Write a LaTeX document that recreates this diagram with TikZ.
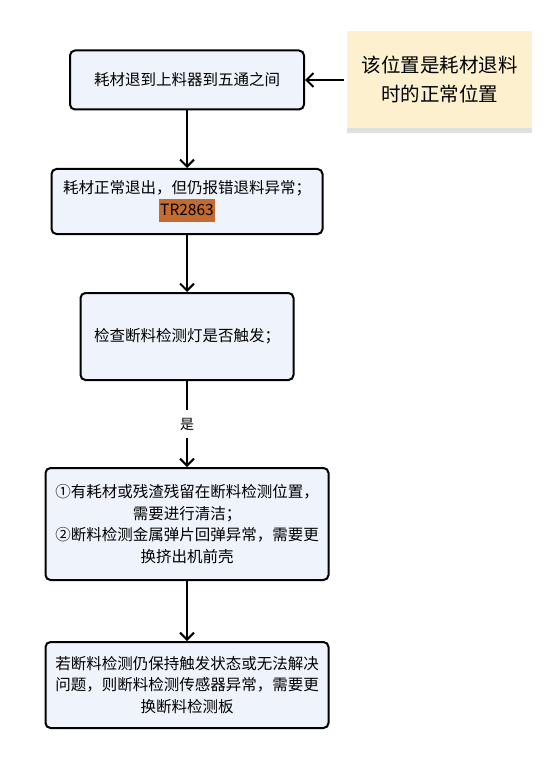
\documentclass[tikz,border=0pt]{standalone}
\usepackage{fontspec}
\setmainfont{Noto Sans CJK SC}
\usetikzlibrary{positioning, arrows.meta, shadows}

\definecolor{boxfill}{HTML}{EFF3FC}
\definecolor{notefill}{HTML}{FDF0CE}
\definecolor{codebg}{HTML}{C46B2F}

\begin{document}
\begin{tikzpicture}[
    x=1pt, y=-1pt,
    ->,
    >={Straight Barb[length=7pt, width=14pt]},
    node distance=120pt,
    on grid,
    line width=2pt,
    every node/.style={font=\fontsize{15.5}{21.5}\selectfont},
    stepbox/.style={
        draw=black,
        fill=boxfill,
        rounded corners=5pt,
        align=center,
        inner sep=4pt,
    },
    notebox/.style={
        fill=notefill,
        align=center,
        minimum width=185pt,
        minimum height=97pt,
        font=\fontsize{19.5}{29}\selectfont,
        drop shadow={shadow xshift=0pt, shadow yshift=-5pt, opacity=0.12, fill=black},
    },
]
\useasboundingbox (0,0) rectangle (551,759);

% --- Steps ---
\node[stepbox, minimum width=234pt, minimum height=59pt] (retract) at (187,80)
    {耗材退到上料器到五通之间};
\node[stepbox, minimum width=271pt, minimum height=65pt] (error) [below=121.5pt of retract]
    {耗材正常退出，但仍报错退料异常；\\
     {\setlength{\fboxsep}{1pt}\colorbox{codebg}{\strut TR2863}}};
\node[stepbox, minimum width=213pt, minimum height=87pt] (check) [below=135pt of error]
    {检查断料检测灯是否触发；};
\node[stepbox, minimum width=283pt, minimum height=112pt] (clean) [below=187.5pt of check]
    {①有耗材或残渣残留在断料检测位置，\\
     需要进行清洁；\\
     ②断料检测金属弹片回弹异常，需要更\\
     换挤出机前壳};
\node[stepbox, minimum width=283pt, minimum height=86pt] (sensor) [below=161pt of clean]
    {若断料检测仍保持触发状态或无法解决\\
     问题，则断料检测传感器异常，需要更\\
     换断料检测板};

% --- Note ---
\node[notebox] (note) [right=252.5pt of retract]
    {该位置是耗材退料\\时的正常位置};

% --- Arrows ---
\path
    (note)    edge [shorten <=2pt] (retract)
    (retract) edge (error)
    (error)   edge (check)
    (check)   edge node [fill=white, inner sep=8pt, font=\fontsize{14}{16}\selectfont] {是} (clean)
    (clean)   edge (sensor)
;

\end{tikzpicture}
\end{document}
